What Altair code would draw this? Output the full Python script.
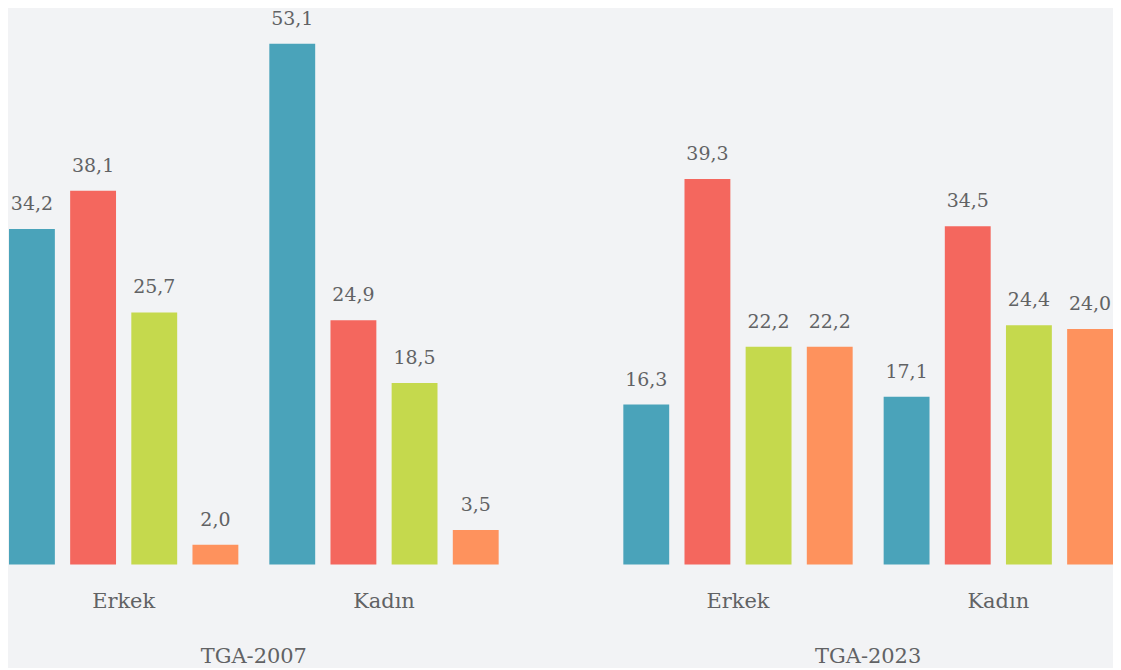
import altair as alt
import pandas as pd

years = ["TGA-2007", "TGA-2023"]
sexes = ["Erkek", "Kadın"]
series = ["Grup 1", "Grup 2", "Grup 3", "Grup 4"]
colors = ["#4aa3ba", "#f4675e", "#c5d94d", "#fe925d"]

v2007_erkek = [34.2, 38.1, 25.7, 2.0]
v2007_kadin = [53.1, 24.9, 18.5, 3.5]
v2023_erkek = [16.3, 39.3, 22.2, 22.2]
v2023_kadin = [17.1, 34.5, 24.4, 24.0]

rows = []
for yr, sx, vals in [
    (years[0], sexes[0], v2007_erkek),
    (years[0], sexes[1], v2007_kadin),
    (years[1], sexes[0], v2023_erkek),
    (years[1], sexes[1], v2023_kadin),
]:
    for s, v in zip(series, vals):
        rows.append({"year": yr, "sex": sx, "series": s, "value": v,
                     "label": f"{v:.1f}".replace(".", ",")})
df = pd.DataFrame(rows)

FONT = "DejaVu Serif"
GRAY = "#616264"

base = alt.Chart().encode(
    x=alt.X("sex:N", sort=sexes, title=None,
            scale=alt.Scale(paddingInner=0.119, paddingOuter=0),
            axis=alt.Axis(labelAngle=0, domain=False, ticks=False, grid=False,
                          labelFont=FONT, labelFontSize=21, labelColor=GRAY,
                          labelPadding=26)),
    xOffset=alt.XOffset("series:N", sort=series,
                        scale=alt.Scale(paddingInner=0.25, paddingOuter=0)),
    y=alt.Y("value:Q", title=None, axis=None,
            scale=alt.Scale(domain=[0, 56.66], nice=False, zero=True)),
)

bars = base.mark_bar().encode(
    color=alt.Color("series:N", sort=series, legend=None,
                    scale=alt.Scale(domain=series, range=colors)),
)

texts = base.mark_text(baseline="alphabetic", dy=-19, font=FONT,
                       fontSize=19, color=GRAY).encode(text="label:N")

chart = alt.layer(bars, texts, data=df).properties(
    width=491, height=557
).facet(
    column=alt.Column("year:N", sort=years, title=None,
                      header=alt.Header(labelOrient="bottom", labelFont=FONT,
                                        labelFontSize=21, labelColor=GRAY,
                                        labelPadding=35)),
    spacing=125,
).configure(
    background="#f2f3f5",
    padding={"left": 1, "top": 0, "right": 0, "bottom": 0},
).configure_view(stroke=None)

chart.save("out.html", embed_options={"renderer": "svg", "actions": False})
